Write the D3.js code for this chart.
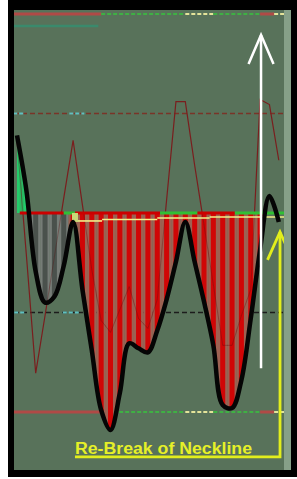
<!DOCTYPE html>
<html><head><meta charset="utf-8">
<script src="https://cdn.jsdelivr.net/npm/d3@7"></script>
<style>html,body{margin:0;padding:0;background:#fff;overflow:hidden}</style>
</head><body>
<svg id="c" width="297" height="479"></svg>
<script>
// ---------- data ----------
const barIndex = d3.range(0, 29);
const mainOsc = [78,23,-59,-90,-84,-53,-9,-77,-138,-198,-218,-181,-131,-136,-140,-118,-87,-49,-9,-49,-89,-133,-193,-196,-168,-106,-37,17,-9];
const signalOsc = [73,-42,-161,-103,-44,15,73,8,-57,-108,-120,-97,-74,-106,-116,-87,13,112,112,48,-12,-72,-133,-133,-103,-77,114,109,53];
const histState = ['g','g','k','k','k','k','r','r','r','r','r','r','r','r','r','r','r','r','r','r','r','r','r','r','r','r','r','',''];
const levels = [200, 100, 0, -100, -200];
const outerSegStart = [-0.4, 9, 18, 21, 26, 27.5];
const outerSegEnd   = [9, 18, 21, 26, 27.5, 28.7];
const outerSegKind  = ['red','green','yellow','green','red','yellow'];
const neckSegStart = [0.3, 5, 6.2, 15.3, 19.3, 23.3];
const neckSegEnd   = [5, 6.2, 15.3, 19.3, 23.3, 28.7];
const neckSegKind  = ['red','green','red','green','red','green'];
const triggerStart = [6.2, 9.1, 15, 20.6];
const triggerEnd   = [9.1, 15, 20.6, 28.7];
const triggerValue = [-8, -6.5, -5, -4];
const upperCyanStart = [-0.4, 5.6], upperCyanEnd = [0.7, 7.2];
const lowerCyanStart = [-0.3, 4.9], lowerCyanEnd = [0.85, 6.7];
const upperTealStart = -0.4, upperTealEnd = 8.7, upperTealValue = 188;
const whiteArrow = {i: 26.1, top: 179, bottom: -156};
const yellowArrow = {i: 28.13, top: -19, bottom: -245, fromI: 6.2};
const labelText = "Re-Break of Neckline";

// ---------- layout ----------
const svg = d3.select('#c');
const P = {x0: 14, x1: 284, y0: 10, y1: 470};
const x = d3.scaleLinear().domain([0, 28]).range([17, 278.8]);
const y = d3.scaleLinear().domain([-200, 200]).range([412, 14]);

svg.append('rect').attr('x', 8).attr('y', 0).attr('width', 289).attr('height', 477).attr('fill', '#000');
svg.append('rect').attr('x', P.x0).attr('y', P.y0).attr('width', P.x1 - P.x0).attr('height', P.y1 - P.y0).attr('fill', '#58725a');
svg.append('rect').attr('x', P.x1).attr('y', P.y0).attr('width', 7).attr('height', P.y1 - P.y0).attr('fill', '#86a088');

const defs = svg.append('defs');
defs.append('clipPath').attr('id', 'plot').append('rect')
  .attr('x', P.x0).attr('y', P.y0).attr('width', P.x1 - P.x0).attr('height', P.y1 - P.y0);
const g = svg.append('g').attr('clip-path', 'url(#plot)');

const col = {red: '#b04a46', green: '#3fb044', yellow: '#e4e49a'};

// outer levels (+200, -200)
[levels[0], levels[4]].forEach(v => {
  outerSegKind.forEach((k, j) => {
    g.append('line').attr('x1', x(outerSegStart[j])).attr('x2', x(outerSegEnd[j]))
      .attr('y1', y(v)).attr('y2', y(v))
      .attr('stroke', col[k]).attr('stroke-width', k === 'red' ? 3 : 2.2)
      .attr('stroke-dasharray', k === 'red' ? null : '4,2');
  });
});
g.append('line').attr('x1', x(upperTealStart)).attr('x2', x(upperTealEnd))
  .attr('y1', y(upperTealValue)).attr('y2', y(upperTealValue))
  .attr('stroke', '#3a8a6c').attr('stroke-width', 2.5);

// inner levels (+100, -100)
g.append('line').attr('x1', P.x0).attr('x2', P.x1).attr('y1', y(levels[1])).attr('y2', y(levels[1]))
  .attr('stroke', '#7a3428').attr('stroke-width', 1.6).attr('stroke-dasharray', '5,3');
upperCyanStart.forEach((s, j) => g.append('line').attr('x1', x(s)).attr('x2', x(upperCyanEnd[j]))
  .attr('y1', y(levels[1])).attr('y2', y(levels[1])).attr('stroke', '#5fc0c0').attr('stroke-width', 2).attr('stroke-dasharray', '4,2'));
g.append('line').attr('x1', P.x0).attr('x2', P.x1).attr('y1', y(levels[3])).attr('y2', y(levels[3]))
  .attr('stroke', '#1c1c1c').attr('stroke-width', 1.6).attr('stroke-dasharray', '5,3');
lowerCyanStart.forEach((s, j) => g.append('line').attr('x1', x(s)).attr('x2', x(lowerCyanEnd[j]))
  .attr('y1', y(levels[3])).attr('y2', y(levels[3])).attr('stroke', '#5fc0c0').attr('stroke-width', 2).attr('stroke-dasharray', '4,2'));

// signal thin line (under histogram)
const signalLine = d3.line().x((d, i) => x(barIndex[i])).y(d => y(d));
g.append('path').datum(signalOsc).attr('d', signalLine)
  .attr('fill', 'none').attr('stroke', '#7a1e1e').attr('stroke-width', 1.2);

// histogram (striped fill between neckline and main oscillator)
const curve = d3.curveCatmullRom.alpha(0.5);
const area = d3.area().x((d, i) => x(barIndex[i])).y0(y(levels[2])).y1(d => y(d)).curve(curve);
defs.append('clipPath').attr('id', 'hist').append('path').attr('d', area(mainOsc));
const hg = g.append('g').attr('clip-path', 'url(#hist)');
const cellCol = {g: '#2ab862', k: '#767c77', r: '#9e6152'};
const barCol = {g: '#22cc6a', k: '#4a514c', r: '#d00606'};
barIndex.forEach(i => {
  const s = histState[i];
  if (!s) return;
  hg.append('rect').attr('x', x(i - 0.5)).attr('width', x(i + 0.5) - x(i - 0.5))
    .attr('y', P.y0).attr('height', P.y1 - P.y0).attr('fill', cellCol[s]);
  hg.append('rect').attr('x', x(i) - 2.5).attr('width', 5)
    .attr('y', Math.min(y(0), y(mainOsc[i])) - 20).attr('height', Math.abs(y(0) - y(mainOsc[i])) + 40)
    .attr('fill', barCol[s]);
});
// faint signal trace seen through the histogram
hg.append('path').datum(signalOsc).attr('d', signalLine)
  .attr('fill', 'none').attr('stroke', '#5a1010').attr('stroke-width', 1).attr('opacity', 0.35);

// neckline
neckSegKind.forEach((k, j) => {
  g.append('line').attr('x1', x(neckSegStart[j])).attr('x2', x(neckSegEnd[j]))
    .attr('y1', y(levels[2])).attr('y2', y(levels[2]))
    .attr('stroke', k === 'red' ? '#cc0000' : '#30c034').attr('stroke-width', 3);
});
// trigger (yellow) line
triggerValue.forEach((v, j) => {
  g.append('line').attr('x1', x(triggerStart[j])).attr('x2', x(triggerEnd[j]))
    .attr('y1', y(v)).attr('y2', y(v)).attr('stroke', '#f2f08a').attr('stroke-width', 1.6);
});
g.append('rect').attr('x', x(triggerStart[0]) - 3).attr('y', y(triggerValue[0]) - 8)
  .attr('width', 6).attr('height', 9).attr('fill', '#c8d878');

// main oscillator
g.append('path').datum(mainOsc)
  .attr('d', d3.line().x((d, i) => x(barIndex[i])).y(d => y(d)).curve(curve))
  .attr('fill', 'none').attr('stroke', '#050505').attr('stroke-width', 4.5).attr('stroke-linejoin', 'round');

// white arrow
const wx = x(whiteArrow.i), wt = y(whiteArrow.top);
g.append('line').attr('x1', wx).attr('x2', wx).attr('y1', wt).attr('y2', y(whiteArrow.bottom))
  .attr('stroke', '#fff').attr('stroke-width', 2.5);
g.append('path').attr('d', `M${wx - 12.5},${wt + 29}L${wx},${wt}L${wx + 12.5},${wt + 29}`)
  .attr('fill', 'none').attr('stroke', '#fff').attr('stroke-width', 2.5);

// yellow arrow + box
const yx = x(yellowArrow.i), yt = y(yellowArrow.top), yb = y(yellowArrow.bottom);
g.append('path').attr('d', `M${x(yellowArrow.fromI)},${yb}L${yx},${yb}L${yx},${yt}`)
  .attr('fill', 'none').attr('stroke', '#e2ee1c').attr('stroke-width', 2.8);
g.append('path').attr('d', `M${yx - 12.5},${yt + 28}L${yx},${yt}L${yx + 12.5},${yt + 28}`)
  .attr('fill', 'none').attr('stroke', '#e2ee1c').attr('stroke-width', 2.8);

svg.append('text').attr('x', x(yellowArrow.fromI)).attr('y', yb - 2.5)
  .attr('font-family', '"Liberation Sans", Arial, sans-serif').attr('font-weight', 'bold')
  .attr('font-size', 16).attr('textLength', 177).attr('lengthAdjust', 'spacingAndGlyphs')
  .attr('fill', '#e6f028').text(labelText);
</script>
</body></html>
